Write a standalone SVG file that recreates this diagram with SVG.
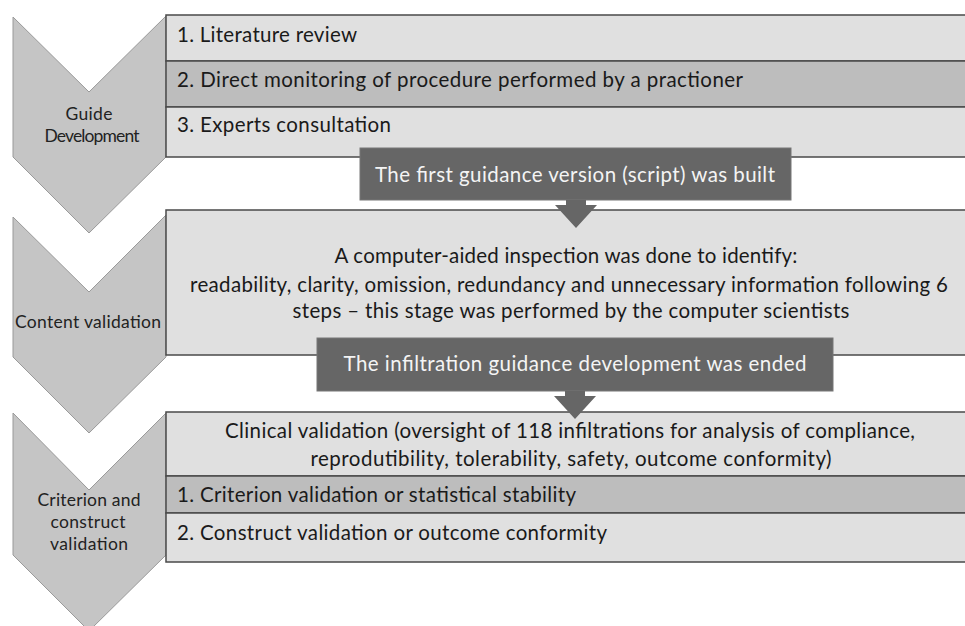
<svg xmlns="http://www.w3.org/2000/svg" width="965" height="626" viewBox="0 0 965 626">
<style>
.chev{fill:#c5c5c5;stroke:#9a9a9a;stroke-width:1}
.light{fill:#e0e0e0;stroke:#4a4a4a;stroke-width:1.5}
.dark{fill:#bdbdbd;stroke:#4a4a4a;stroke-width:1.5}
.ban{fill:#666666;stroke:#777;stroke-width:1}
.arr{fill:#666666}
text{font-family:Lato,"Liberation Sans",sans-serif;fill:#1a1a1a}
.lbl{font-size:17.5px;text-anchor:middle;fill:#222}
.row{font-size:20.5px}
.ctr{font-size:20.5px;text-anchor:middle}
.wt{font-size:20.5px;text-anchor:middle;fill:#f4f4f4}
</style>
<rect width="965" height="626" fill="#ffffff"/>

<g id="stage1">
<path class="chev" d="M13,17 L89,92 L166,16 L166,157 L89,233 L13,157 Z"/>
<text class="lbl" x="89" y="120" textLength="47">Guide</text>
<text class="lbl" x="92" y="142" textLength="95">Development</text>
</g>
<g id="box1">
<rect class="light" x="166" y="15" width="802" height="46"/>
<rect class="dark" x="166" y="61" width="802" height="46"/>
<rect class="light" x="166" y="107" width="802" height="50"/>
<text class="row" x="177" y="42" textLength="180">1. Literature review</text>
<text class="row" x="177" y="87" textLength="566">2. Direct monitoring of procedure performed by a practioner</text>
<text class="row" x="177" y="132" textLength="214">3. Experts consultation</text>
</g>

<g id="stage2">
<path class="chev" d="M13,217 L89,292 L166,215 L166,357 L89,433 L13,357 Z"/>
<text class="lbl" x="88" y="328" textLength="146">Content validation</text>
</g>
<g id="box2">
<rect class="light" x="166" y="210" width="802" height="145"/>
<text class="ctr" x="566" y="263" textLength="463">A computer-aided inspection was done to identify:</text>
<text class="ctr" x="569" y="292" textLength="758">readability, clarity, omission, redundancy and unnecessary information following 6</text>
<text class="ctr" x="571" y="318" textLength="557">steps – this stage was performed by the computer scientists</text>
</g>

<g id="stage3">
<path class="chev" d="M13,413 L89,490 L166,413 L166,555 L89,631 L13,555 Z"/>
<text class="lbl" x="89" y="506" textLength="103">Criterion and</text>
<text class="lbl" x="88" y="528" textLength="75">construct</text>
<text class="lbl" x="89" y="550" textLength="78">validation</text>
</g>
<g id="box3">
<rect class="light" x="166" y="412" width="802" height="64"/>
<rect class="dark" x="166" y="476" width="802" height="37"/>
<rect class="light" x="166" y="513" width="802" height="49"/>
<text class="ctr" x="570" y="438" textLength="690">Clinical validation (oversight of 118 infiltrations for analysis of compliance,</text>
<text class="ctr" x="571" y="466" textLength="521">reprodutibility,  tolerability, safety, outcome conformity)</text>
<text class="row" x="177" y="502" textLength="399">1. Criterion validation or statistical stability</text>
<text class="row" x="177" y="540" textLength="430">2. Construct validation or outcome conformity</text>
</g>

<g id="connectors">
<g id="banner1">
<rect class="ban" x="360" y="148" width="431" height="52"/>
<path class="arr" d="M566,200 L586,200 L586,205 L597,205 L576,228 L555,205 L566,205 Z"/>
<text class="wt" x="575" y="182" textLength="400">The first guidance version (script) was built</text>
</g>
<g id="banner2">
<rect class="ban" x="317" y="338" width="516" height="53"/>
<path class="arr" d="M565,391 L585,391 L585,396 L596,396 L575,419 L554,396 L565,396 Z"/>
<text class="wt" x="575" y="371" textLength="463">The infiltration guidance development was ended</text>
</g>
</g>
</svg>
